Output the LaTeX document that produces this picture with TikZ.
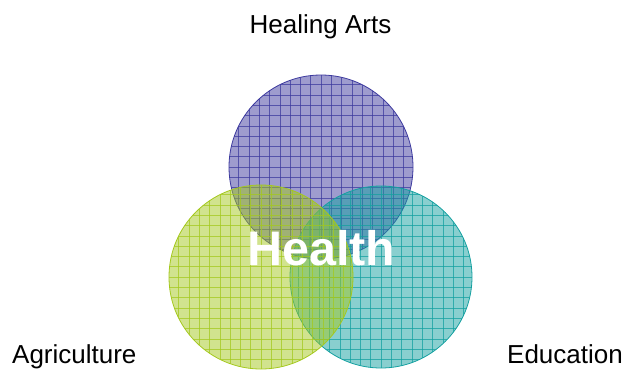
\documentclass[tikz,border=0pt]{standalone}
\usepackage{fontspec}
\setmainfont{Liberation Sans}
\definecolor{pur}{HTML}{3D3A9E}
\definecolor{grn}{HTML}{A4C81E}
\definecolor{tea}{HTML}{14A0A0}
\newcommand\myvennset[4]{%
  \fill[#4, fill opacity=0.5] (#1,#2) circle[radius=#3];
  \begin{scope}
    \clip (#1,#2) circle[radius=#3];
    \foreach \k in {-9,...,9} {
      \draw[#4, line width=0.6pt, opacity=0.75] (#1+\k*10.3, #2-#3) -- (#1+\k*10.3, #2+#3);
      \draw[#4, line width=0.6pt, opacity=0.75] (#1-#3, #2+\k*10.3) -- (#1+#3, #2+\k*10.3);
    }
  \end{scope}
  \draw[#4, line width=0.8pt] (#1,#2) circle[radius=#3];
}
\begin{document}
\begin{tikzpicture}[x=1pt,y=-1pt,
  lbl/.style={font=\fontsize{26}{29}\selectfont, inner sep=0pt, text=black},
  big/.style={font=\bfseries\fontsize{48.5}{52}\selectfont, inner sep=0pt, text=white}]
\useasboundingbox (0,0) rectangle (626,373);
\myvennset{321}{167}{92}{pur}
\myvennset{381}{277}{91}{tea}
\myvennset{261}{277}{92}{grn}
\node[lbl, anchor=base] (heal) at (320.5,33) {Healing Arts};
\node[lbl, anchor=base west] (agri) at (12,363) {Agriculture};
\node[lbl, anchor=base east] (edu) at (623,363) {Education};
\node[big, anchor=base] (health) at (321.5,265) {Health};
\end{tikzpicture}
\end{document}
